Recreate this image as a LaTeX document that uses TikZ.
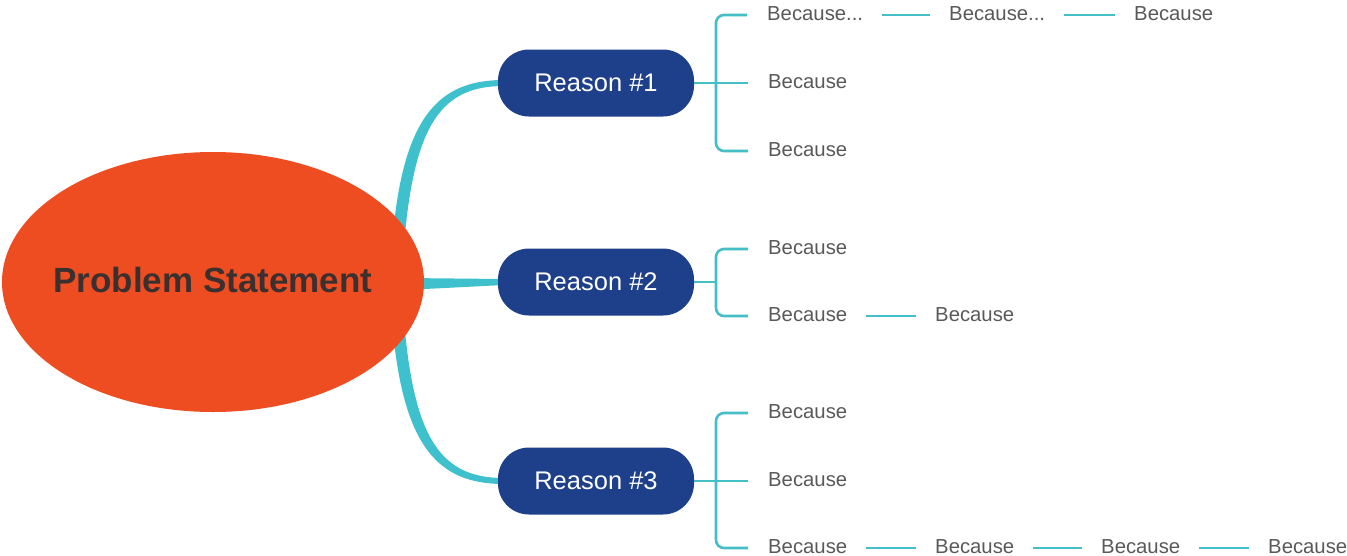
\documentclass[tikz,border=0pt]{standalone}
\usepackage{fontspec}
\setmainfont{Liberation Sans}
\usetikzlibrary{backgrounds,calc,shapes.geometric}
\definecolor{rootc}{HTML}{EE4D21}
\definecolor{reasonc}{HTML}{1E3F8A}
\definecolor{tealc}{HTML}{3EC1CC}
\definecolor{tiec}{HTML}{45BFC6}
\definecolor{textc}{HTML}{595959}
\definecolor{roottext}{HTML}{3B3030}
\tikzset{
  rootnode/.style={ellipse, fill=rootc, minimum width=422pt, minimum height=260pt, inner sep=0pt,
    font=\fontsize{35pt}{40pt}\selectfont\bfseries, text=roottext},
  reasonnode/.style={rectangle, rounded corners=31pt, fill=reasonc, minimum width=196pt, minimum height=67pt,
    inner sep=0pt, font=\fontsize{25.5pt}{30pt}\selectfont, text=white},
  becnode/.style={anchor=west, inner sep=0pt, text height=10pt, text depth=0pt,
    font=\fontsize{20.3pt}{24pt}\selectfont, text=textc},
  branch/.style={fill=tealc},
  tie/.style={draw=tiec, line width=2.6pt, rounded corners=8pt},
  link/.style={draw=tiec, line width=2.6pt, shorten <=19pt, shorten >=19pt},
}
\begin{document}
\begin{tikzpicture}[x=1pt,y=-1pt]
\useasboundingbox (0,0) rectangle (1347,555);
\node[rootnode] (root) at (213,282) {\makebox[0pt]{\raisebox{4pt}{Problem Statement}}};
\node[reasonnode] (r1) at (596,83) {Reason \#1};
\node[reasonnode] (r2) at (596,282) {Reason \#2};
\node[reasonnode] (r3) at (596,481) {Reason \#3};

% branch start points inside root ellipse
\coordinate (b1s) at (398,245);
\coordinate (b2s) at (405,284);
\coordinate (b3s) at (398,320);

\begin{pgfonlayer}{background}
\fill[branch] ([xshift=-6pt]b1s) .. controls (402,117) and (438,80) .. ([xshift=6pt,yshift=3pt]r1.west)
  -- ([xshift=6pt,yshift=-3pt]r1.west) .. controls (442,86) and (414,123) .. ([xshift=6pt]b1s) -- cycle;
\fill[branch] ([yshift=6pt]b2s) -- ([xshift=6pt,yshift=3pt]r2.west) -- ([xshift=6pt,yshift=-3pt]r2.west) -- ([yshift=-6pt]b2s) -- cycle;
\fill[branch] ([xshift=-6pt]b3s) .. controls (402,447) and (438,484) .. ([xshift=6pt,yshift=-3pt]r3.west)
  -- ([xshift=6pt,yshift=3pt]r3.west) .. controls (442,478) and (414,441) .. ([xshift=6pt]b3s) -- cycle;
\end{pgfonlayer}

% Reason 1 children
\node[becnode] (a1) at (767,15) {Because...};
\node[becnode] (a1b) at (949,15) {Because...};
\node[becnode] (a1c) at (1134,15) {Because};
\node[becnode] (a2) at (768,83) {Because};
\node[becnode] (a3) at (768,151) {Because};
\coordinate (h1) at (716,83);
\draw[tie] (r1.east) -- ([xshift=-20pt]a2.west);
\draw[tie] (h1) |- ([xshift=-20pt]a1.west);
\draw[tie] (h1) |- ([xshift=-20pt]a3.west);
\draw[link] (a1) -- (a1b);
\draw[link] (a1b) -- (a1c);

% Reason 2 children
\node[becnode] (b1) at (768,249) {Because};
\node[becnode] (b2) at (768,316) {Because};
\node[becnode] (b2b) at (935,316) {Because};
\coordinate (h2) at (716,282);
\draw[tie] (r2.east) -- (h2);
\draw[tie] (h2) |- ([xshift=-20pt]b1.west);
\draw[tie] (h2) |- ([xshift=-20pt]b2.west);
\draw[link] (b2) -- (b2b);

% Reason 3 children
\node[becnode] (c1) at (768,413) {Because};
\node[becnode] (c2) at (768,481) {Because};
\node[becnode] (c3) at (768,548) {Because};
\node[becnode] (c3b) at (935,548) {Because};
\node[becnode] (c3c) at (1101,548) {Because};
\node[becnode] (c3d) at (1268,548) {Because};
\coordinate (h3) at (716,481);
\draw[tie] (r3.east) -- ([xshift=-20pt]c2.west);
\draw[tie] (h3) |- ([xshift=-20pt]c1.west);
\draw[tie] (h3) |- ([xshift=-20pt]c3.west);
\draw[link] (c3) -- (c3b);
\draw[link] (c3b) -- (c3c);
\draw[link] (c3c) -- (c3d);
\end{tikzpicture}
\end{document}
